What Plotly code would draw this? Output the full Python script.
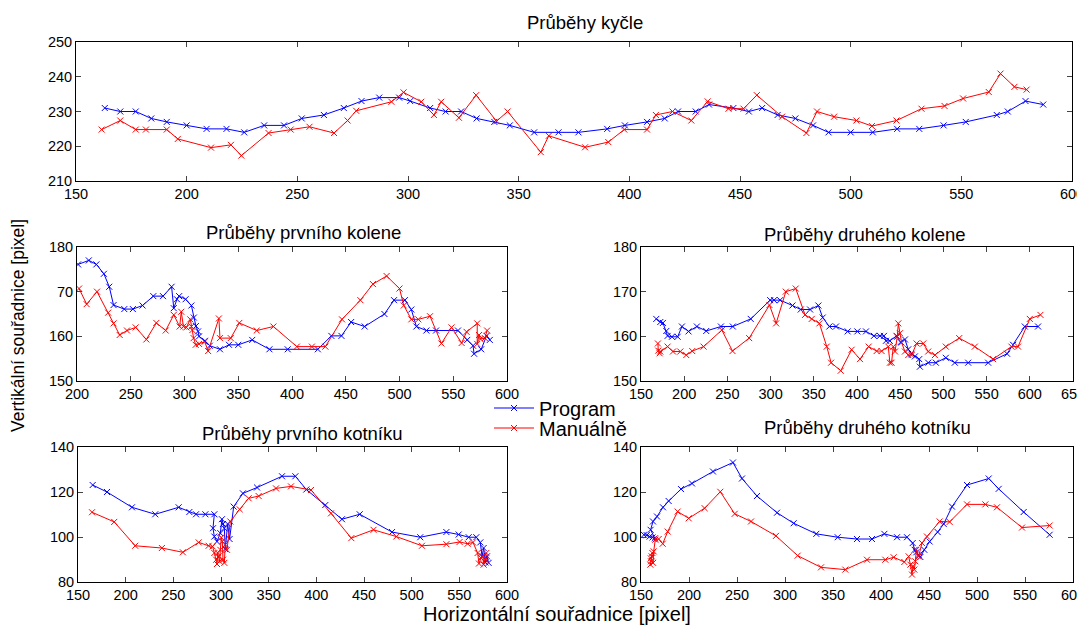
import plotly.graph_objects as go

# ---------------- data ----------------
# Průběhy kyčle
hip_prog_x = [163, 170, 177, 184, 191, 200, 209, 218, 226, 235, 244, 252, 262, 271, 279, 287, 296, 301, 310, 317, 324, 331, 339, 346, 357, 368, 377, 390, 398, 408, 416, 422, 430, 436, 447, 454, 460, 467, 475, 483, 490, 500, 510, 521, 531, 542, 552, 566, 571, 579, 587]
hip_prog_y = [231, 230, 230, 228, 227, 226, 225, 225, 224, 226, 226, 228, 229, 231, 233, 234, 234, 233, 231, 230, 230, 228, 227, 226, 224, 224, 224, 225, 226, 227, 228, 230, 230, 232, 231, 230, 231, 229, 228, 226, 224, 224, 224, 225, 225, 226, 227, 229, 230, 233, 232]
hip_man_x = [161.6, 170, 177, 181.6, 191, 196, 211, 220, 224.7, 237, 247, 255.5, 266.6, 272.7, 276.6, 292.5, 298, 306, 311.7, 315, 323, 330.8, 340, 345, 360, 363.6, 380, 390.5, 397.7, 408, 412, 419.5, 428, 435.4, 444.8, 451.6, 457.6, 469, 480, 484.8, 492.5, 502.6, 509.6, 520.7, 532, 542.4, 550.8, 562.4, 567.7, 574, 579.5]
hip_man_y = [224.8, 227.4, 224.8, 224.8, 224.8, 222.1, 219.6, 220.4, 217.3, 223.8, 224.8, 225.6, 223.8, 227.4, 230.2, 232.8, 235.5, 232.8, 229, 232.8, 228.2, 234.7, 227.2, 230, 218.3, 223, 219.7, 221.2, 224.8, 224.8, 229, 230, 227.4, 232.9, 230.8, 230.8, 234.7, 228.5, 223.8, 230, 228.5, 227.4, 225.8, 227.4, 230.8, 231.6, 233.75, 235.6, 240.9, 237.1, 236.3]

# Průběhy prvního kolene
knee1_prog_x = [201, 211, 218, 225, 230, 234, 244, 252, 261, 271, 280, 288, 290, 293, 295, 301, 306.4, 308.7, 310.6, 312.6, 313.5, 319, 323.5, 333, 341.4, 350, 363, 379, 396, 424, 436.6, 446, 455, 467.6, 486, 494.9, 505, 511, 515.7, 525, 534, 554.4, 563, 568.4, 569.4, 576, 581, 584]
knee1_prog_y = [176.1, 177, 176.1, 174, 171.1, 167, 166.1, 166.1, 166.9, 169, 169, 171.1, 166.3, 168.3, 169, 168.3, 166.9, 164.2, 162.3, 161.1, 160, 159, 157.9, 157.1, 158.1, 158.1, 159.2, 157.1, 157.1, 157.1, 160.1, 160.1, 163.2, 162.2, 165, 168.1, 168.1, 166, 162.2, 161.3, 161.3, 161.3, 159.2, 157.9, 156.1, 157.1, 160.1, 159.2]
knee1_man_x = [201.9, 209, 218.6, 229, 234, 239.7, 246.5, 254.6, 264.5, 273.8, 282.5, 290, 295.5, 297, 299, 301.7, 305.4, 306.4, 307.3, 308.5, 310.4, 313.5, 318.8, 322, 332, 333, 343, 351, 367.2, 382.7, 404.5, 418.5, 431, 446.5, 463.6, 475.3, 488, 500, 504, 511, 517.5, 528.4, 539, 548.4, 557.8, 562.4, 572.3, 572.3, 574, 575.3, 579.4, 581.5]
knee1_man_y = [170.7, 167.2, 170, 165.3, 162.9, 160.3, 161.3, 162, 159.3, 163, 161.3, 164.8, 162.2, 165.5, 162.2, 162, 163.8, 162.2, 161.4, 159.6, 158.1, 158.3, 158.8, 156.7, 164, 159.6, 159.6, 163, 161.3, 162.2, 157.7, 157.7, 157.7, 163.8, 168.1, 171.7, 173.5, 170.7, 166.9, 163.8, 163.8, 164.5, 158.4, 162, 158.5, 161, 162.9, 158.3, 160.3, 159.4, 159.6, 161.3]

# Průběhy druhého kolene
knee2_prog_x = [167.7, 172.3, 175.4, 179.3, 180.8, 185.8, 192.4, 197.4, 205, 214.7, 225.5, 242.5, 256.3, 277, 299.5, 304, 311, 325.3, 334.9, 345.7, 355.3, 360.3, 368, 375.7, 389.2, 400.4, 410.4, 419.6, 426.6, 431.2, 433.5, 438, 445.8, 450.5, 455.5, 459.3, 463.2, 467, 472, 472.8, 482.4, 491.3, 502.8, 513.2, 528.7, 551.8, 573.7, 580.7, 594.2, 609.6]
knee2_prog_y = [163.9, 163.2, 163, 161.2, 160.1, 159.9, 159.9, 162.2, 161.1, 162.2, 161.2, 162.2, 162.2, 163.9, 168.1, 168.1, 168.1, 166.9, 166, 166, 166.9, 164.2, 162.2, 162.2, 161.1, 161.1, 161.1, 160.1, 160.1, 160.1, 159, 159, 160.1, 158.7, 159.3, 157.1, 156.1, 155.5, 154.9, 153.2, 154.1, 154.1, 155.2, 154.1, 154.1, 154.1, 156.1, 158.1, 162.2, 162.2]
knee2_man_x = [169.6, 170, 171.6, 172.3, 180.8, 187, 195.5, 202.4, 209.3, 222.4, 243.6, 255.9, 275.2, 298.7, 306.4, 317.6, 329.1, 339.9, 347.6, 356.5, 365, 370, 381.2, 393.8, 403.5, 413.5, 422.7, 428.5, 436.2, 438.1, 440, 442, 444, 446.6, 447.8, 449.7, 451.6, 455.5, 459.3, 463.2, 469, 476.7, 482.4, 490.2, 502.8, 518.3, 536.4, 557.5, 578.7, 586.4, 600, 612.3]
knee2_man_y = [158.4, 156.8, 156.2, 156.6, 157.7, 156.6, 156.6, 155.8, 156.7, 157.7, 161.4, 156.7, 159.6, 167, 162.9, 170, 170.7, 164.8, 163.9, 162.9, 157.7, 154.1, 152.3, 157, 154.9, 157.7, 156.7, 156.7, 157.7, 154.1, 154.1, 157.7, 156.6, 159.9, 162.9, 160.7, 158.6, 156.6, 155.8, 155.8, 158.4, 158.4, 156.6, 155.8, 157.7, 159.6, 157.7, 154.9, 157.7, 157.7, 163.9, 164.8]

# Průběhy prvního kotníku
ankle1_prog_x = [165.4, 180.4, 206.6, 231, 255.6, 266.8, 273.8, 283.6, 293, 291.6, 293, 295.8, 299.3, 301, 302.1, 303.5, 304.5, 307, 309, 313.3, 323, 337.8, 364, 378, 389.5, 409.4, 426.9, 445.5, 479.4, 509, 536.4, 549.3, 559.8, 567.8, 572, 573.8, 575.5, 577.3, 579, 580.7]
ankle1_prog_y = [123.1, 120, 113.2, 110.1, 113.2, 111.1, 110.1, 110.1, 110.1, 103.9, 100.2, 98, 101.7, 107.9, 105.8, 103.9, 94.6, 105.8, 99.1, 113.5, 119.4, 122, 127, 127, 121.1, 114.2, 107.9, 110.1, 102.2, 99.9, 102.2, 101.1, 99.9, 99.9, 97.6, 91.4, 95.1, 88.7, 91.4, 88.5]
ankle1_man_x = [164.7, 188, 210, 238, 260, 276.6, 287, 291.2, 293, 295, 295.8, 296.5, 297.6, 298.6, 299.3, 300.3, 301.4, 302.1, 303.5, 304.5, 306.3, 309.8, 319.6, 329, 339.5, 357.7, 373.4, 394.4, 415.4, 436.7, 460, 483.9, 510.8, 536.4, 550.3, 558.7, 564.3, 569.2, 570.6, 572.7, 574.8, 575.5, 577.3, 578.3]
ankle1_man_y = [111, 106.7, 96.1, 95.1, 93.2, 97.6, 96.1, 95.8, 92.9, 89.9, 88, 92.9, 91.4, 89.2, 94.3, 99.8, 98, 89.9, 88.5, 96.6, 94.3, 106.9, 112.3, 117.2, 118.2, 121.6, 122.5, 120.9, 110.5, 99.5, 103.2, 100.2, 96.1, 96.8, 97.8, 97, 97.6, 92.9, 88.2, 90.7, 91.4, 87.7, 89.9, 92.9]

# Průběhy druhého kotníku
ankle2_prog_x = [153, 156, 159, 162, 164.5, 160, 162.5, 166.7, 172.9, 178.8, 191.7, 203.1, 225, 245.8, 255.2, 270.8, 291.7, 309, 332.6, 354.9, 375, 390.6, 403.5, 416.7, 427.1, 433, 435.1, 436.8, 439.2, 441, 445.1, 450.7, 459, 465.3, 474, 489.6, 512.2, 522.6, 548.6, 575.7]
ankle2_prog_y = [101, 100.8, 100.2, 99.8, 99.4, 103.2, 106.9, 109.1, 113.2, 116, 121.3, 123.8, 129.1, 133.1, 126, 118.2, 110.8, 106.1, 101.4, 99.9, 99.1, 99.1, 101.4, 99.9, 99.9, 97.3, 94.3, 93.2, 92, 91.1, 94.3, 98, 102.2, 105.8, 113.5, 123.1, 126, 121.4, 111.1, 101]
ankle2_man_x = [159.7, 160.4, 161.1, 161.8, 160.2, 162.6, 163.2, 164.9, 168.4, 172.6, 177.8, 188.2, 199.7, 216.3, 232.6, 247.6, 264.6, 290.6, 313.2, 337.5, 362.8, 385.4, 404.5, 413.2, 424.3, 428.8, 430.6, 432.3, 433.3, 434.7, 435.8, 436.8, 439.2, 442.7, 447.9, 461.1, 471.5, 489.6, 508.7, 520.8, 546.9, 575.7]
ankle2_man_y = [87.7, 89.2, 91.4, 92.9, 90.5, 88.5, 93.6, 98.8, 99.1, 97, 102.4, 111.3, 108.3, 112.8, 120.1, 110.3, 106.9, 100.5, 91.7, 86.5, 85.5, 89.9, 89.9, 91, 88.9, 91.4, 87.7, 83.3, 87, 85.5, 89.2, 94.3, 91.4, 97.3, 100.2, 106.9, 106.7, 114.5, 114.5, 113.2, 104.2, 105.1]

series_names = ["Program", "Manuálně"]
series_colors = ["#0000FF", "#FF0000"]

panel_titles = ["Průběhy kyčle", "Průběhy prvního kolene", "Průběhy druhého kolene",
                "Průběhy prvního kotníku", "Průběhy druhého kotníku"]
x_label = "Horizontální souřadnice [pixel]"
y_label = "Vertikální souřadnice [pixel]"

# tick values / labels per panel
hip_xticks = [150, 200, 250, 300, 350, 400, 450, 500, 550, 600]
hip_yticks = [210, 220, 230, 240, 250]
knee1_xticks = [200, 250, 300, 350, 400, 450, 500, 550, 600]
knee1_yticks = [150, 160, 170, 180]
knee1_ytext = ["150", "160", "70", "180"]
knee2_xticks = [150, 200, 250, 300, 350, 400, 450, 500, 550, 600, 650]
knee_yticks = [150, 160, 170, 180]
ankle_xticks = [150, 200, 250, 300, 350, 400, 450, 500, 550, 600]
ankle_yticks = [80, 100, 120, 140]

# ---------------- figure ----------------
# the page body adds an 8px offset at the top-left; size the figure to reach the window edge
OFF = 8
W, H = 1085 - OFF, 627 - OFF
FONT = "Liberation Sans, Arial, sans-serif"

def px_x(p):
    return (p - OFF) / W

def px_y(p):
    return 1 - (p - OFF) / H

panels = [
    ((hip_prog_x, hip_man_x), (hip_prog_y, hip_man_y), [150, 600], [210, 250], hip_xticks, hip_yticks, None, (76, 1072, 42, 181)),
    ((knee1_prog_x, knee1_man_x), (knee1_prog_y, knee1_man_y), [200, 600], [150, 180], knee1_xticks, knee1_yticks, knee1_ytext, (77, 507, 247, 381)),
    ((knee2_prog_x, knee2_man_x), (knee2_prog_y, knee2_man_y), [150, 650], [150, 180], knee2_xticks, knee_yticks, None, (641, 1073, 247, 381)),
    ((ankle1_prog_x, ankle1_man_x), (ankle1_prog_y, ankle1_man_y), [150, 600], [80, 140], ankle_xticks, ankle_yticks, None, (78, 507, 447, 582)),
    ((ankle2_prog_x, ankle2_man_x), (ankle2_prog_y, ankle2_man_y), [150, 600], [80, 140], ankle_xticks, ankle_yticks, None, (641, 1073, 447, 582)),
]

legend_ids = ["legend", "legend2"]

fig = go.Figure()
layout = {}
for i, (xs, ys, xr, yr, xt, yt, ytext, dom) in enumerate(panels):
    n = "" if i == 0 else str(i + 1)
    for s in range(2):
        fig.add_trace(go.Scatter(
            x=xs[s], y=ys[s], mode="lines+markers",
            name=series_names[s], legendgroup=series_names[s], showlegend=(i == 0),
            legend=legend_ids[s],
            line=dict(color=series_colors[s], width=1),
            marker=dict(symbol="x-thin", size=6, line=dict(color=series_colors[s], width=1), color=series_colors[s]),
            xaxis="x" + n, yaxis="y" + n,
        ))
    l, r, t, b = dom
    common = dict(showline=True, linecolor="black", linewidth=1, mirror="ticks",
                  ticks="inside", ticklen=5, tickcolor="#444", showgrid=False, zeroline=False,
                  automargin=False, ticklabeloverflow="allow",
                  tickfont=dict(family=FONT, size=14.5, color="black"))
    layout["xaxis" + n] = dict(domain=[px_x(l), px_x(r)], range=xr, tickvals=xt,
                               anchor="y" + n, **common)
    yax = dict(domain=[px_y(b), px_y(t)], range=yr, tickvals=yt, anchor="x" + n, **common)
    if ytext:
        yax["ticktext"] = ytext
    layout["yaxis" + n] = yax

fig.update_layout(**layout)

title_pos = [(585, 22), (303, 233), (865, 234), (302, 433), (867, 427)]
ann = []
for txt, (x, y) in zip(panel_titles, title_pos):
    ann.append(dict(text=txt, x=px_x(x), y=px_y(y), xref="paper", yref="paper",
                    showarrow=False, xanchor="center", yanchor="middle",
                    font=dict(family=FONT, size=18.5, color="black")))
ann.append(dict(text=x_label, x=px_x(557), y=px_y(614), xref="paper", yref="paper",
                showarrow=False, xanchor="center", yanchor="middle",
                font=dict(family=FONT, size=20, color="black")))
ann.append(dict(text=y_label, x=px_x(18), y=px_y(326), xref="paper", yref="paper",
                showarrow=False, xanchor="center", yanchor="middle", textangle=-90,
                font=dict(family=FONT, size=17.5, color="black")))

leg_common = dict(xanchor="left", yanchor="middle", bgcolor="rgba(0,0,0,0)",
                  font=dict(family=FONT, size=20, color="black"), itemwidth=40)

fig.update_layout(
    template="none",
    width=W, height=H,
    margin=dict(l=0, r=0, t=0, b=0),
    paper_bgcolor="white", plot_bgcolor="white",
    annotations=ann,
    showlegend=True,
    legend=dict(x=px_x(489), y=px_y(408), **leg_common),
    legend2=dict(x=px_x(489), y=px_y(428), **leg_common),
    font=dict(family=FONT),
)

fig.write_html("out.html")
